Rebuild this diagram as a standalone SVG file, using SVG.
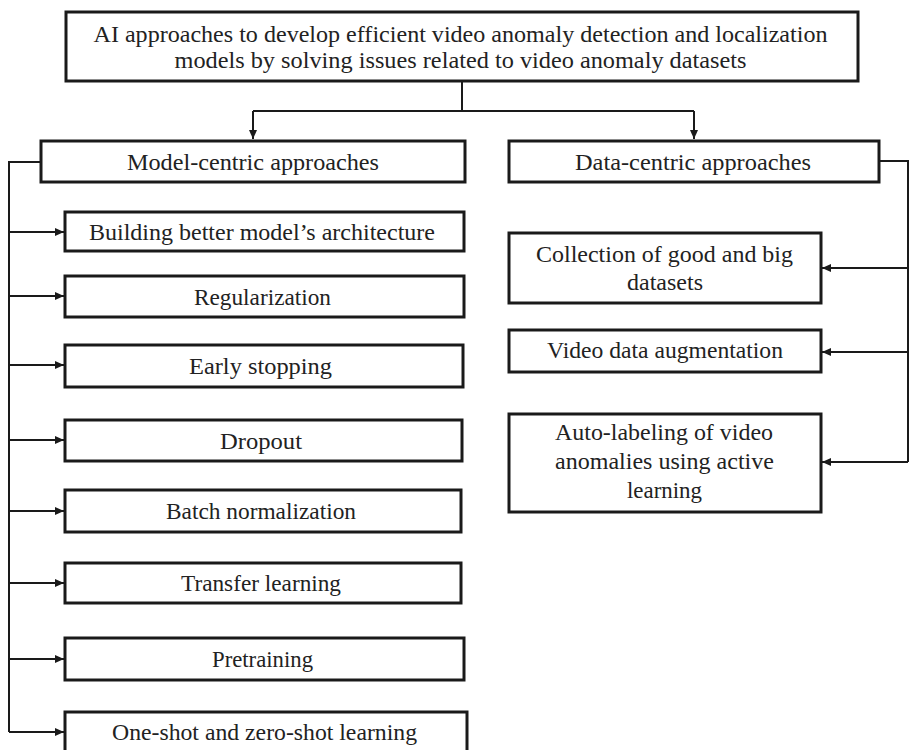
<svg xmlns="http://www.w3.org/2000/svg" width="910" height="750" viewBox="0 0 910 750">
<defs>
<style>
.box{fill:#fff;stroke:#1a1a1a;stroke-width:3}
.t{font-family:"Liberation Serif","Times New Roman",serif;font-size:23px;fill:#222;text-anchor:middle}
.c{fill:none;stroke:#1a1a1a;stroke-width:2}
</style>
<marker id="ah" markerUnits="userSpaceOnUse" markerWidth="9" markerHeight="8" refX="9" refY="4" orient="auto">
<path d="M0,0 L9,4 L0,8 z" fill="#1a1a1a"/>
</marker>
</defs>
<rect width="910" height="750" fill="#fff"/>
<g id="connectors">
<path class="c" d="M462,82 V111 M253,111 H694"/>
<path class="c" d="M253,111 V139" marker-end="url(#ah)"/>
<path class="c" d="M694,111 V139" marker-end="url(#ah)"/>
<path class="c" d="M40,162 H9 V732"/>
<path class="c" d="M9,232 H64" marker-end="url(#ah)"/>
<path class="c" d="M9,296 H64" marker-end="url(#ah)"/>
<path class="c" d="M9,365 H64" marker-end="url(#ah)"/>
<path class="c" d="M9,440 H64" marker-end="url(#ah)"/>
<path class="c" d="M9,511 H64" marker-end="url(#ah)"/>
<path class="c" d="M9,583 H64" marker-end="url(#ah)"/>
<path class="c" d="M9,659 H64" marker-end="url(#ah)"/>
<path class="c" d="M9,732 H64" marker-end="url(#ah)"/>
<path class="c" d="M880,161 H908 V462"/>
<path class="c" d="M908,268 H822" marker-end="url(#ah)"/>
<path class="c" d="M908,352 H822" marker-end="url(#ah)"/>
<path class="c" d="M908,462 H822" marker-end="url(#ah)"/>
</g>
<g id="root">
<rect class="box" x="66" y="12" width="792" height="69"/>
<text class="t" x="460.5" y="42" textLength="734" lengthAdjust="spacingAndGlyphs">AI approaches to develop efficient video anomaly detection and localization</text>
<text class="t" x="460.5" y="68" textLength="572" lengthAdjust="spacingAndGlyphs">models by solving issues related to video anomaly datasets</text>
</g>
<g id="model-centric">
<rect class="box" x="41" y="141" width="424" height="41"/>
<text class="t" x="253" y="170" textLength="252" lengthAdjust="spacingAndGlyphs">Model-centric approaches</text>
</g>
<g id="data-centric">
<rect class="box" x="509" y="141" width="370" height="41"/>
<text class="t" x="693" y="170" textLength="236" lengthAdjust="spacingAndGlyphs">Data-centric approaches</text>
</g>
<g id="building">
<rect class="box" x="65" y="212" width="399" height="39"/>
<text class="t" x="262" y="240" textLength="346" lengthAdjust="spacingAndGlyphs">Building  better model’s architecture</text>
</g>
<g id="regularization">
<rect class="box" x="65" y="276" width="399" height="41"/>
<text class="t" x="262.5" y="305" textLength="137" lengthAdjust="spacingAndGlyphs">Regularization</text>
</g>
<g id="early-stopping">
<rect class="box" x="65" y="345" width="398" height="42"/>
<text class="t" x="260.5" y="374" textLength="143" lengthAdjust="spacingAndGlyphs">Early stopping</text>
</g>
<g id="dropout">
<rect class="box" x="65" y="420" width="397" height="41"/>
<text class="t" x="261" y="449" textLength="82" lengthAdjust="spacingAndGlyphs">Dropout</text>
</g>
<g id="batch-normalization">
<rect class="box" x="65" y="490" width="396" height="42"/>
<text class="t" x="261" y="519" textLength="190" lengthAdjust="spacingAndGlyphs">Batch normalization</text>
</g>
<g id="transfer-learning">
<rect class="box" x="65" y="563" width="396" height="40"/>
<text class="t" x="261" y="591" textLength="160" lengthAdjust="spacingAndGlyphs">Transfer learning</text>
</g>
<g id="pretraining">
<rect class="box" x="65" y="638" width="399" height="42"/>
<text class="t" x="262.5" y="667" textLength="101" lengthAdjust="spacingAndGlyphs">Pretraining</text>
</g>
<g id="one-shot">
<rect class="box" x="65" y="712" width="402" height="45"/>
<text class="t" x="264.5" y="740" textLength="305" lengthAdjust="spacingAndGlyphs">One-shot and zero-shot learning</text>
</g>
<g id="collection">
<rect class="box" x="509" y="233" width="312" height="70"/>
<text class="t" x="664.5" y="262" textLength="257" lengthAdjust="spacingAndGlyphs">Collection of good and big</text>
<text class="t" x="665" y="290" textLength="76" lengthAdjust="spacingAndGlyphs">datasets</text>
</g>
<g id="video-augmentation">
<rect class="box" x="509" y="330" width="312" height="42"/>
<text class="t" x="665" y="358" textLength="236" lengthAdjust="spacingAndGlyphs">Video data augmentation</text>
</g>
<g id="auto-labeling">
<rect class="box" x="509" y="414" width="312" height="98"/>
<text class="t" x="664" y="440" textLength="218" lengthAdjust="spacingAndGlyphs">Auto-labeling of video</text>
<text class="t" x="664.5" y="469" textLength="219" lengthAdjust="spacingAndGlyphs">anomalies using active</text>
<text class="t" x="664.5" y="498" textLength="75" lengthAdjust="spacingAndGlyphs">learning</text>
</g>
</svg>
